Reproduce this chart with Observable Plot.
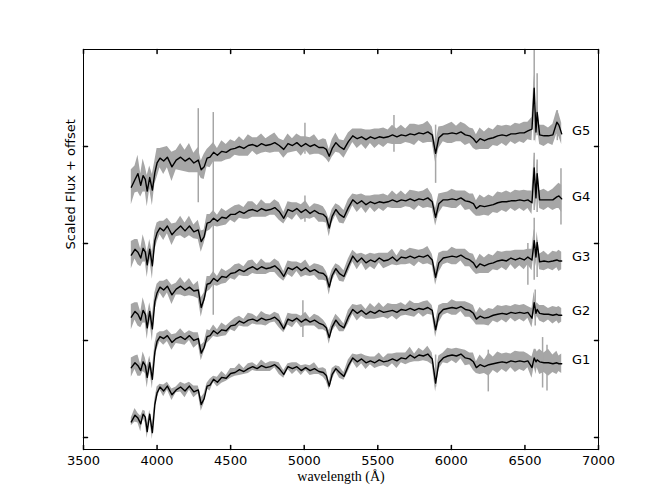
<!DOCTYPE html>
<html><head><meta charset="utf-8">
<script src="https://cdn.jsdelivr.net/npm/d3@7"></script>
<script src="https://cdn.jsdelivr.net/npm/@observablehq/plot@0.6"></script>
<style>body{margin:0;background:#fff}</style>
</head><body><div id="chart"></div>
<script>
const wavelength = [3825,3850,3870,3889,3905,3920,3933,3950,3968,3985,
4000,4020,4045,4070,4101,4130,4160,4190,4220,4250,
4280,4300,4320,4340,4360,4384,4410,4440,4470,4500,
4530,4560,4590,4620,4650,4680,4710,4740,4770,4800,
4830,4861,4890,4920,4950,4980,5010,5040,5070,5100,
5130,5150,5170,5190,5215,5240,5270,5300,5330,5360,
5390,5420,5450,5480,5510,5540,5570,5600,5630,5660,
5690,5720,5750,5780,5810,5840,5870,5893,5915,5945,
5975,6005,6035,6065,6095,6125,6150,6170,6195,6225,
6255,6285,6315,6345,6375,6405,6435,6465,6495,6520,
6548,6563,6575,6583,6600,6630,6660,6690,6717,6731,6750];

const groups = ["G1","G2","G3","G4","G5"];

const fluxG1 = [0.16,0.23,0.20,0.14,0.24,0.21,0.06,0.24,0.05,0.34,
0.46,0.52,0.48,0.53,0.44,0.49,0.52,0.48,0.53,0.47,
0.49,0.34,0.40,0.53,0.54,0.60,0.57,0.62,0.61,0.66,
0.67,0.70,0.68,0.71,0.73,0.71,0.74,0.72,0.73,0.75,
0.71,0.65,0.73,0.71,0.73,0.69,0.72,0.69,0.71,0.68,
0.67,0.64,0.53,0.65,0.71,0.67,0.63,0.74,0.82,0.78,
0.81,0.77,0.79,0.77,0.80,0.78,0.79,0.81,0.79,0.82,
0.81,0.85,0.82,0.85,0.84,0.86,0.81,0.56,0.77,0.82,
0.84,0.85,0.84,0.86,0.82,0.81,0.78,0.72,0.75,0.73,
0.75,0.76,0.77,0.78,0.77,0.79,0.78,0.79,0.78,0.79,
0.72,0.82,0.78,0.80,0.78,0.77,0.77,0.76,0.77,0.76,0.76];

const fluxG2 = [0.72,0.77,0.74,0.69,0.78,0.74,0.62,0.77,0.60,0.88,
0.99,1.04,1.02,1.05,0.98,1.02,1.04,1.01,1.05,1.00,
1.02,0.87,0.93,1.04,1.05,1.10,1.07,1.11,1.10,1.15,
1.16,1.20,1.18,1.21,1.22,1.20,1.23,1.21,1.22,1.24,
1.20,1.12,1.22,1.20,1.23,1.19,1.22,1.19,1.21,1.18,
1.16,1.13,1.03,1.14,1.21,1.16,1.13,1.24,1.32,1.28,
1.31,1.27,1.30,1.28,1.31,1.29,1.30,1.31,1.29,1.32,
1.31,1.33,1.31,1.33,1.32,1.34,1.31,1.11,1.27,1.32,
1.33,1.34,1.33,1.35,1.32,1.31,1.28,1.22,1.25,1.23,
1.24,1.26,1.27,1.28,1.27,1.29,1.28,1.29,1.28,1.29,
1.23,1.39,1.28,1.32,1.28,1.27,1.27,1.26,1.27,1.26,1.26];

const fluxG3 = [1.24,1.30,1.27,1.21,1.31,1.27,1.13,1.30,1.12,1.40,
1.49,1.55,1.52,1.56,1.47,1.53,1.56,1.52,1.55,1.51,
1.52,1.34,1.43,1.58,1.59,1.64,1.61,1.66,1.65,1.69,
1.70,1.73,1.71,1.74,1.76,1.73,1.76,1.74,1.75,1.77,
1.73,1.66,1.75,1.73,1.76,1.72,1.75,1.71,1.73,1.70,
1.69,1.66,1.55,1.67,1.74,1.69,1.66,1.77,1.87,1.81,
1.85,1.80,1.83,1.81,1.85,1.82,1.83,1.86,1.82,1.86,
1.85,1.87,1.85,1.87,1.86,1.88,1.83,1.65,1.80,1.85,
1.86,1.87,1.86,1.88,1.85,1.83,1.80,1.75,1.79,1.77,
1.79,1.80,1.82,1.83,1.82,1.85,1.83,1.85,1.83,1.86,
1.83,2.03,1.86,2.01,1.81,1.82,1.81,1.82,1.83,1.82,1.82];

const fluxG4 = [1.88,1.94,1.91,1.85,1.95,1.91,1.78,1.94,1.77,2.03,
2.11,2.16,2.13,2.18,2.09,2.14,2.18,2.13,2.18,2.12,
2.14,2.02,2.07,2.21,2.22,2.26,2.23,2.27,2.26,2.30,
2.30,2.33,2.31,2.34,2.35,2.33,2.36,2.34,2.35,2.37,
2.33,2.26,2.35,2.33,2.36,2.32,2.35,2.31,2.34,2.31,
2.30,2.27,2.16,2.28,2.35,2.30,2.27,2.37,2.45,2.41,
2.44,2.40,2.43,2.41,2.43,2.42,2.43,2.45,2.43,2.45,
2.44,2.46,2.44,2.46,2.45,2.47,2.43,2.27,2.41,2.45,
2.45,2.46,2.45,2.47,2.44,2.43,2.41,2.36,2.39,2.38,
2.39,2.40,2.42,2.43,2.43,2.44,2.44,2.45,2.44,2.45,
2.42,2.78,2.47,2.72,2.45,2.45,2.45,2.45,2.48,2.49,2.46];

const fluxG5 = [2.58,2.66,2.72,2.60,2.70,2.66,2.54,2.68,2.55,2.73,
2.83,2.88,2.85,2.89,2.79,2.86,2.89,2.85,2.88,2.83,
2.86,2.76,2.79,2.88,2.89,2.94,2.91,2.95,2.94,2.97,
2.98,3.00,2.98,3.01,3.02,3.00,3.03,3.01,3.02,3.04,
3.01,2.97,3.03,3.01,3.04,3.00,3.03,3.00,3.02,2.99,
2.99,2.97,2.90,2.98,3.04,3.00,2.97,3.05,3.11,3.08,
3.10,3.07,3.10,3.08,3.10,3.09,3.10,3.12,3.10,3.12,
3.11,3.13,3.12,3.14,3.13,3.15,3.12,2.93,3.09,3.13,
3.13,3.14,3.13,3.15,3.12,3.11,3.08,3.04,3.08,3.06,
3.08,3.09,3.11,3.12,3.11,3.13,3.13,3.14,3.14,3.16,
3.18,3.60,3.15,3.35,3.12,3.11,3.11,3.12,3.25,3.22,3.13];

const errG1 = [.04,.07,.05,.08,.04,.06,.07,.04,.07,.05,
.06,.03,.06,.04,.06,.03,.05,.07,.04,.06,.04,.07,.05,.03,.06,
.03,.05,.06,.03,.05,.04,.06,.03,.05,.04,.03,.06,.04,.05,.03,.06,.04,.03,.06,.04,.05,.03,.05,.06,.03,.05,.06,.04,.06,.03,.06,.04,
.06,.04,.07,.05,.07,.04,.06,.07,.04,.07,.05,.08,.05,.06,.08,.04,.07,.05,.08,.06,.09,.07,.05,.08,.06,.08,.05,.08,.06,
.09,.06,.10,.07,.12,.07,.11,.08,.10,.07,.11,.09,.10,.07,.11,.09,.13,.08,.13,.10,.14,.09,.12,.08,.10];

const errG2 = [.10,.07,.11,.06,.10,.08,.11,.07,.10,.08,
.08,.05,.07,.06,.08,.05,.08,.06,.05,.08,.06,.08,.05,.07,.05,
.06,.04,.07,.05,.04,.07,.05,.04,.07,.05,.04,.07,.06,.04,.05,.07,.04,.06,.07,.04,.06,.07,.04,.06,.07,.05,.04,.07,.05,.06,.07,.04,
.07,.05,.08,.06,.05,.08,.06,.08,.05,.08,.06,.08,.07,.05,.08,.07,.05,.08,.07,.05,.08,.09,.06,.05,.08,.07,.05,.08,.07,
.08,.06,.09,.07,.09,.06,.09,.07,.09,.06,.09,.07,.09,.06,.10,.11,.09,.07,.08,.09,.06,.09,.07,.09,.07];

const errG3 = [.13,.09,.12,.08,.13,.09,.12,.09,.13,.09,
.09,.06,.09,.07,.10,.06,.09,.07,.09,.06,.09,.10,.06,.08,.07,
.07,.05,.08,.06,.05,.08,.06,.05,.08,.07,.05,.08,.06,.05,.07,.08,.05,.07,.08,.05,.07,.08,.05,.06,.08,.07,.05,.08,.06,.05,.08,.06,
.07,.06,.08,.05,.08,.07,.08,.05,.08,.07,.08,.05,.08,.07,.08,.09,.06,.08,.09,.06,.08,.10,.07,.06,.09,.08,.06,.09,.07,
.09,.07,.10,.08,.10,.07,.10,.08,.10,.07,.10,.08,.10,.08,.11,.12,.10,.11,.08,.10,.07,.10,.08,.11,.09];

const errG4 = [.14,.10,.13,.09,.14,.10,.13,.10,.14,.10,
.10,.07,.10,.08,.11,.07,.10,.08,.10,.07,.10,.11,.07,.09,.08,
.08,.06,.09,.07,.06,.09,.07,.06,.09,.08,.06,.09,.07,.06,.08,.09,.06,.08,.09,.06,.08,.09,.06,.07,.09,.08,.06,.09,.07,.06,.09,.07,
.08,.06,.09,.07,.09,.06,.09,.07,.09,.06,.09,.07,.09,.06,.09,.10,.07,.09,.10,.07,.09,.10,.07,.08,.10,.09,.07,.10,.08,
.10,.08,.11,.09,.11,.08,.11,.09,.11,.08,.11,.09,.11,.09,.12,.13,.11,.12,.09,.11,.08,.11,.12,.13,.14];

const errG5 = [.18,.14,.19,.12,.17,.13,.16,.12,.16,.12,
.15,.10,.14,.11,.15,.10,.14,.11,.15,.10,.13,.09,.13,.09,.11,
.10,.07,.11,.08,.10,.07,.10,.08,.11,.07,.09,.10,.07,.09,.10,.07,.09,.10,.07,.09,.10,.07,.09,.10,.07,.09,.10,.07,.09,.10,.07,.09,
.09,.07,.10,.08,.10,.07,.10,.08,.10,.07,.10,.08,.10,.07,.10,.11,.08,.10,.11,.08,.10,.11,.08,.10,.11,.08,.10,.11,.08,
.10,.08,.11,.09,.11,.08,.11,.09,.11,.08,.11,.09,.11,.09,.12,.14,.12,.13,.10,.11,.08,.11,.12,.12,.11];

// single-pixel error spikes
const spikeGroup = ["G5","G4","G5","G5","G5","G5","G5","G5","G4","G4","G4","G4","G3","G3","G3","G2","G2","G1","G1","G1","G1"];
const spikeWave  = [4280,4382,5893,5610,5005,6563,6583,6720,6563,6583,6745,5005,6563,6583,6520,6570,4991,6251,6620,6650,5893];
const spikeLo    = [2.42,1.26,2.62,2.94,2.92,3.06,3.11,3.06,2.34,2.32,2.19,2.22,1.62,1.65,1.57,1.15,1.03,0.47,0.51,0.48,0.52];
const spikeHi    = [3.39,3.35,3.22,3.32,3.24,3.99,3.75,3.37,2.93,2.86,2.77,2.49,2.26,2.03,2.00,1.52,1.41,0.90,1.03,0.95,0.85];

const labelWave = [6820,6820,6820,6820,6820];
const labelFlux = [0.80,1.31,1.86,2.48,3.16];

const xTicks = [3500,4000,4500,5000,5500,6000,6500,7000];
const yTicks = [0,1,2,3];
const xLabel = "wavelength (Å)";
const yLabel = "Scaled Flux + offset";

const fluxes = [fluxG1,fluxG2,fluxG3,fluxG4,fluxG5];
const errs = [errG1,errG2,errG3,errG4,errG5];
const rows = [];
groups.forEach((g, gi) => wavelength.forEach((w, i) => {
  const f = fluxes[gi][i], e = errs[gi][i];
  rows.push({group: g, wl: w, flux: f, lo: f - e, hi: f + e});
}));
const spikes = spikeWave.map((w, i) => ({group: spikeGroup[i], wl: w, lo: spikeLo[i], hi: spikeHi[i]}));
const labels = groups.map((g, i) => ({name: g, wl: labelWave[i], flux: labelFlux[i]}));

const tickShape = {draw(ctx, l) { ctx.moveTo(0, 0); ctx.lineTo(0, -l); }};
const band = "#a6a6a6";

const chart = Plot.plot({
  width: 664, height: 501,
  marginLeft: 83, marginRight: 66, marginTop: 49, marginBottom: 52,
  style: {fontFamily: "DejaVu Sans", fontSize: "13px", background: "white", color: "black"},
  x: {domain: [3500, 7000], axis: null},
  y: {domain: [-0.124, 4.0], axis: null},
  marks: [
    Plot.areaY(rows, {x: "wl", y1: "lo", y2: "hi", z: "group", fill: band}),
    Plot.ruleX(spikes, {x: "wl", y1: "lo", y2: "hi", stroke: band, strokeWidth: 1.5}),
    Plot.line(rows, {x: "wl", y: "flux", z: "group", stroke: "black", strokeWidth: 1.4}),
    Plot.text(labels, {x: "wl", y: "flux", text: "name", textAnchor: "start", fontSize: 13, fill: "black"}),
    Plot.frame({stroke: "black", strokeWidth: 1}),
    Plot.vector(xTicks, {x: d => d, frameAnchor: "bottom", length: 4, rotate: 0, anchor: "start", shape: tickShape, stroke: "black"}),
    Plot.vector(xTicks, {x: d => d, frameAnchor: "top", length: 4, rotate: 180, anchor: "start", shape: tickShape, stroke: "black"}),
    Plot.vector(yTicks, {y: d => d, frameAnchor: "left", length: 4, rotate: 90, anchor: "start", shape: tickShape, stroke: "black"}),
    Plot.vector(yTicks, {y: d => d, frameAnchor: "right", length: 4, rotate: -90, anchor: "start", shape: tickShape, stroke: "black"}),
    Plot.axisX(xTicks, {anchor: "bottom", tickSize: 0, tickPadding: 6, tickFormat: d => String(d), label: null, fontSize: 13, fill: "black"}),
    Plot.text([xLabel], {text: d => d, frameAnchor: "bottom", dy: 31, fontFamily: "Liberation Serif", fontSize: 14, fill: "black"}),
    Plot.text([yLabel], {text: d => d, frameAnchor: "left", dx: -13, rotate: -90, fontSize: 13, fill: "black"})
  ]
});
document.getElementById("chart").appendChild(chart);
</script>
</body></html>
